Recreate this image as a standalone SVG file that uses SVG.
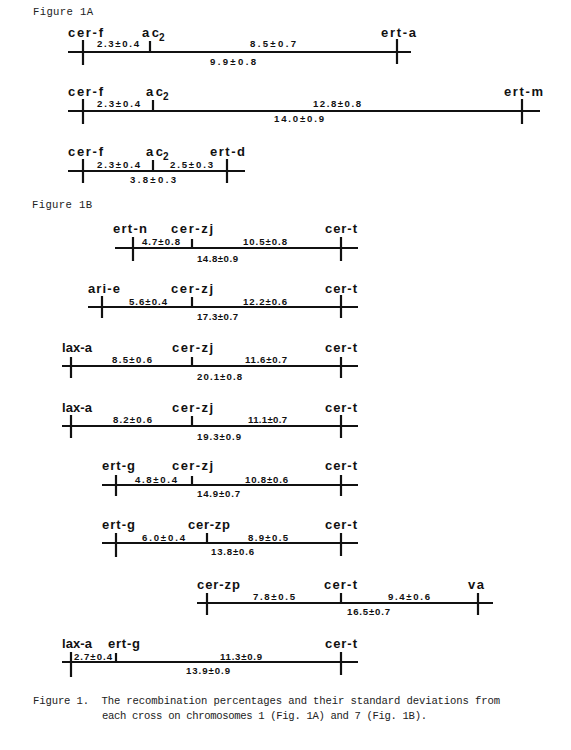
<svg xmlns="http://www.w3.org/2000/svg" width="571" height="750" viewBox="0 0 571 750">
<style>
.bg{fill:#fff}
.chr{stroke:#111;stroke-width:1.8;fill:none}
.tk{stroke:#111;stroke-width:2.2;fill:none}
.g{font-family:"Liberation Sans",Arial,sans-serif;font-weight:bold;font-size:13px;fill:#111}
.n{font-family:"Liberation Sans",Arial,sans-serif;font-weight:bold;font-size:9.6px;fill:#111}
.s{font-family:"Liberation Sans",Arial,sans-serif;font-weight:bold;font-size:10px;fill:#111}
.t{font-family:"Liberation Mono","Courier New",monospace;font-size:10.6px;fill:#222}
</style>
<rect class="bg" x="0" y="0" width="571" height="750"/>
<text class="t" x="33" y="15" textLength="60" lengthAdjust="spacing">Figure 1A</text>
<text class="t" x="32" y="208" textLength="60" lengthAdjust="spacing">Figure 1B</text>

<g id="connectors">
<path class="chr" d="M68 52H411M68 111H540M68 171H245M115 248H358M88 307H358M62 366H358M62 426H358M102 485H358M102 543H358M197 603H493M62 662H358"/>
</g>

<g id="mapA1">
<path class="tk" d="M83 40V65M150 41V52M397 39V64"/>
<text class="g" x="68" y="37" textLength="35" lengthAdjust="spacing">cer-f</text>
<text class="g" x="142" y="37" textLength="17" lengthAdjust="spacing">ac</text><text class="s" x="159" y="41">2</text>
<text class="g" x="381" y="37" textLength="35" lengthAdjust="spacing">ert-a</text>
<text class="n" x="97" y="47" textLength="42" lengthAdjust="spacing">2.3±0.4</text>
<text class="n" x="250" y="47" textLength="46" lengthAdjust="spacing">8.5±0.7</text>
<text class="n" x="210" y="65" textLength="46" lengthAdjust="spacing">9.9±0.8</text>
</g>

<g id="mapA2">
<path class="tk" d="M83 99V124M153 100V111M522 99V124"/>
<text class="g" x="68" y="96" textLength="35" lengthAdjust="spacing">cer-f</text>
<text class="g" x="146" y="96" textLength="17" lengthAdjust="spacing">ac</text><text class="s" x="163" y="100">2</text>
<text class="g" x="504" y="96" textLength="39" lengthAdjust="spacing">ert-m</text>
<text class="n" x="97" y="107" textLength="43" lengthAdjust="spacing">2.3±0.4</text>
<text class="n" x="313" y="107" textLength="48" lengthAdjust="spacing">12.8±0.8</text>
<text class="n" x="274" y="122" textLength="50" lengthAdjust="spacing">14.0±0.9</text>
</g>

<g id="mapA3">
<path class="tk" d="M83 159V183M153 160V171M227 159V183"/>
<text class="g" x="68" y="156" textLength="35" lengthAdjust="spacing">cer-f</text>
<text class="g" x="146" y="156" textLength="17" lengthAdjust="spacing">ac</text><text class="s" x="163" y="160">2</text>
<text class="g" x="210" y="156" textLength="35" lengthAdjust="spacing">ert-d</text>
<text class="n" x="97" y="168" textLength="43" lengthAdjust="spacing">2.3±0.4</text>
<text class="n" x="170" y="168" textLength="43" lengthAdjust="spacing">2.5±0.3</text>
<text class="n" x="130" y="183" textLength="46" lengthAdjust="spacing">3.8±0.3</text>
</g>

<g id="mapB1">
<path class="tk" d="M133 237V261M192 239V248M341 237V261"/>
<text class="g" x="113" y="233" textLength="34" lengthAdjust="spacing">ert-n</text>
<text class="g" x="171" y="233" textLength="42" lengthAdjust="spacing">cer-zj</text>
<text class="g" x="325" y="233" textLength="32" lengthAdjust="spacing">cer-t</text>
<text class="n" x="142" y="245" textLength="38" lengthAdjust="spacing">4.7±0.8</text>
<text class="n" x="243" y="245" textLength="44" lengthAdjust="spacing">10.5±0.8</text>
<text class="n" x="197" y="262" textLength="41" lengthAdjust="spacing">14.8±0.9</text>
</g>

<g id="mapB2">
<path class="tk" d="M102 296V318M192 297V307M341 295V318"/>
<text class="g" x="88" y="293" textLength="32" lengthAdjust="spacing">ari-e</text>
<text class="g" x="171" y="293" textLength="42" lengthAdjust="spacing">cer-zj</text>
<text class="g" x="325" y="293" textLength="32" lengthAdjust="spacing">cer-t</text>
<text class="n" x="129" y="305" textLength="38" lengthAdjust="spacing">5.6±0.4</text>
<text class="n" x="243" y="305" textLength="44" lengthAdjust="spacing">12.2±0.6</text>
<text class="n" x="197" y="320" textLength="41" lengthAdjust="spacing">17.3±0.7</text>
</g>

<g id="mapB3">
<path class="tk" d="M71 357V378M192 357V366M341 357V378"/>
<text class="g" x="62" y="352" textLength="30" lengthAdjust="spacing">lax-a</text>
<text class="g" x="172" y="352" textLength="41" lengthAdjust="spacing">cer-zj</text>
<text class="g" x="325" y="352" textLength="32" lengthAdjust="spacing">cer-t</text>
<text class="n" x="112" y="363" textLength="40" lengthAdjust="spacing">8.5±0.6</text>
<text class="n" x="245" y="363" textLength="42" lengthAdjust="spacing">11.6±0.7</text>
<text class="n" x="197" y="380" textLength="45" lengthAdjust="spacing">20.1±0.8</text>
</g>

<g id="mapB4">
<path class="tk" d="M71 415V438M192 416V426M341 415V438"/>
<text class="g" x="62" y="412" textLength="30" lengthAdjust="spacing">lax-a</text>
<text class="g" x="172" y="412" textLength="41" lengthAdjust="spacing">cer-zj</text>
<text class="g" x="325" y="412" textLength="32" lengthAdjust="spacing">cer-t</text>
<text class="n" x="113" y="423" textLength="39" lengthAdjust="spacing">8.2±0.6</text>
<text class="n" x="248" y="423" textLength="39" lengthAdjust="spacing">11.1±0.7</text>
<text class="n" x="197" y="440" textLength="44" lengthAdjust="spacing">19.3±0.9</text>
</g>

<g id="mapB5">
<path class="tk" d="M116 475V496M192 476V485M341 475V496"/>
<text class="g" x="102" y="470" textLength="33" lengthAdjust="spacing">ert-g</text>
<text class="g" x="172" y="470" textLength="41" lengthAdjust="spacing">cer-zj</text>
<text class="g" x="325" y="470" textLength="32" lengthAdjust="spacing">cer-t</text>
<text class="n" x="135" y="483" textLength="42" lengthAdjust="spacing">4.8±0.4</text>
<text class="n" x="245" y="483" textLength="43" lengthAdjust="spacing">10.8±0.6</text>
<text class="n" x="197" y="497" textLength="43" lengthAdjust="spacing">14.9±0.7</text>
</g>

<g id="mapB6">
<path class="tk" d="M116 533V557M207 533V543M341 533V556"/>
<text class="g" x="102" y="529" textLength="33" lengthAdjust="spacing">ert-g</text>
<text class="g" x="188" y="529" textLength="42" lengthAdjust="spacing">cer-zp</text>
<text class="g" x="325" y="529" textLength="32" lengthAdjust="spacing">cer-t</text>
<text class="n" x="142" y="541" textLength="43" lengthAdjust="spacing">6.0±0.4</text>
<text class="n" x="248" y="541" textLength="40" lengthAdjust="spacing">8.9±0.5</text>
<text class="n" x="211" y="555" textLength="43" lengthAdjust="spacing">13.8±0.6</text>
</g>

<g id="mapB7">
<path class="tk" d="M207 593V615M341 593V603M478 593V615"/>
<text class="g" x="197" y="589" textLength="43" lengthAdjust="spacing">cer-zp</text>
<text class="g" x="324" y="589" textLength="33" lengthAdjust="spacing">cer-t</text>
<text class="g" x="468" y="589" textLength="16" lengthAdjust="spacing">va</text>
<text class="n" x="253" y="600" textLength="42" lengthAdjust="spacing">7.8±0.5</text>
<text class="n" x="388" y="600" textLength="42" lengthAdjust="spacing">9.4±0.6</text>
<text class="n" x="347" y="615" textLength="43" lengthAdjust="spacing">16.5±0.7</text>
</g>

<g id="mapB8">
<path class="tk" d="M71 652V677M116 653V662M341 652V675"/>
<text class="g" x="62" y="648" textLength="30" lengthAdjust="spacing">lax-a</text>
<text class="g" x="108" y="648" textLength="32" lengthAdjust="spacing">ert-g</text>
<text class="g" x="325" y="648" textLength="32" lengthAdjust="spacing">cer-t</text>
<text class="n" x="74" y="660" textLength="38" lengthAdjust="spacing">2.7±0.4</text>
<text class="n" x="220" y="660" textLength="42" lengthAdjust="spacing">11.3±0.9</text>
<text class="n" x="186" y="674" textLength="44" lengthAdjust="spacing">13.9±0.9</text>
</g>

<g id="caption">
<text class="t" x="33" y="704" textLength="467" lengthAdjust="spacing" xml:space="preserve">Figure 1.  The recombination percentages and their standard deviations from</text>
<text class="t" x="102" y="719" textLength="325" lengthAdjust="spacing">each cross on chromosomes 1 (Fig. 1A) and 7 (Fig. 1B).</text>
</g>
</svg>
